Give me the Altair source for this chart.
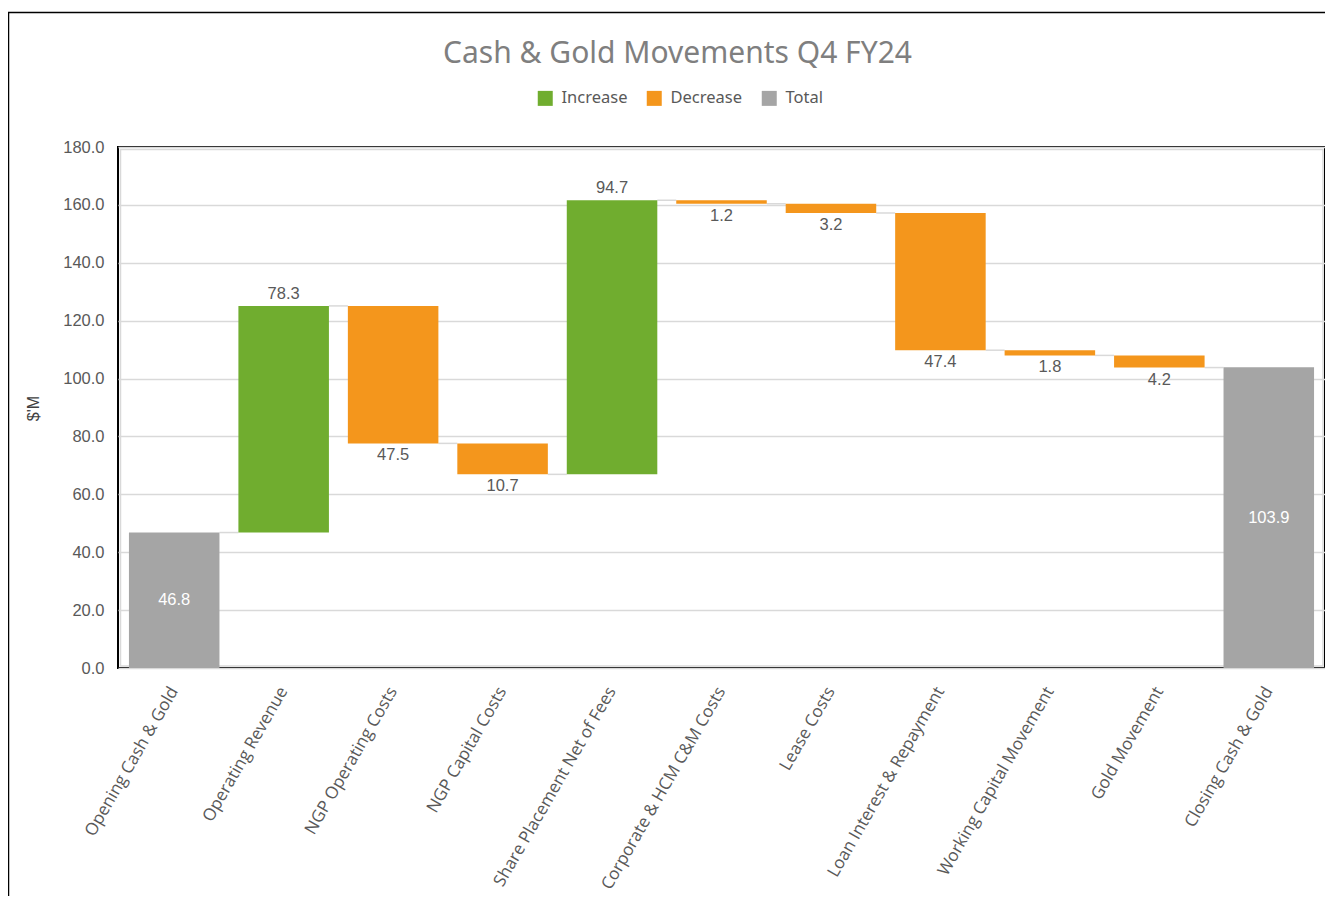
import altair as alt
import pandas as pd

categories = [
    "Opening Cash & Gold", "Operating Revenue", "NGP Operating Costs", "NGP Capital Costs",
    "Share Placement Net of Fees", "Corporate & HCM C&M Costs", "Lease Costs",
    "Loan Interest & Repayment", "Working Capital Movement", "Gold Movement", "Closing Cash & Gold",
]
values = [46.8, 78.3, -47.5, -10.7, 94.7, -1.2, -3.2, -47.4, -1.8, -4.2, 103.9]
kinds = ["Total", "Increase", "Decrease", "Decrease", "Increase", "Decrease", "Decrease",
         "Decrease", "Decrease", "Decrease", "Total"]

chart_title = "Cash & Gold Movements Q4 FY24"
legend_names = ["Increase", "Decrease", "Total"]
legend_colors = ["#70AD2F", "#F4961C", "#A5A5A5"]
y_ticks = [0, 20, 40, 60, 80, 100, 120, 140, 160, 180]

rows = []
running = 0.0
for i, (c, v, k) in enumerate(zip(categories, values, kinds)):
    if k == "Total":
        start, end = 0.0, v
    else:
        start, end = running, running + v
    running = end
    rows.append({
        "cat": c, "kind": k, "start": start, "end": end,
        "lo": min(start, end), "hi": max(start, end), "mid": (start + end) / 2,
        "label": f"{abs(v):.1f}",
        "next": categories[i + 1] if i + 1 < len(categories) else None,
    })
df = pd.DataFrame(rows)

W, H = 1207, 521
xscale = alt.Scale(paddingInner=0.173, paddingOuter=0.1)
yscale = alt.Scale(domain=[0, 180], nice=False, zero=True)

base = alt.Chart(df)

x_enc = alt.X("cat:N", sort=categories, scale=xscale, title=None,
              axis=alt.Axis(labelAngle=300, labelFont="Open Sans", labelFontSize=17,
                            labelColor="#595959", labelPadding=20, ticks=False, domain=False,
                            labelLimit=400))
y_enc = alt.Y("lo:Q", scale=yscale, title="$'M",
              axis=alt.Axis(values=y_ticks, format=".1f", labelFont="Liberation Sans",
                            labelFontSize=16.5, labelColor="#595959", labelPadding=14,
                            ticks=False, domain=False, gridColor="#D9D9D9", gridWidth=1.5,
                            titleFont="Liberation Sans", titleFontSize=16, titleColor="#404040",
                            titleFontWeight="normal", titleAngle=270, titleX=-85, titleY=261,
                            titleAlign="center", titleBaseline="middle"))

frame = alt.Chart(pd.DataFrame({"f": [0]})).mark_rect(
    fill=None, stroke="black", strokeWidth=1.5, clip=False
).encode(x=alt.value(-109.5), x2=alt.value(1300), y=alt.value(-134.5), y2=alt.value(900))

inner = alt.Chart(pd.DataFrame({"f": [0]})).mark_rect(
    fill=None, stroke="#D9D9D9", strokeWidth=1.5
).encode(x=alt.value(2.5), x2=alt.value(W - 2), y=alt.value(2.5), y2=alt.value(H - 2))

title_mark = alt.Chart(pd.DataFrame({"t": [chart_title]})).mark_text(
    font="Noto Sans", fontSize=30, color="#7F7F7F", baseline="middle", align="center"
).encode(x=alt.value(559.5), y=alt.value(-93), text="t:N")

bars = base.mark_bar().encode(
    x=x_enc,
    y=y_enc,
    y2="hi:Q",
    color=alt.Color("kind:N", scale=alt.Scale(domain=legend_names, range=legend_colors),
                    legend=alt.Legend(title=None, orient="none", legendX=419, legendY=-57,
                                      direction="horizontal", symbolType="square",
                                      symbolSize=225, symbolStrokeWidth=0,
                                      labelFont="Noto Sans", labelFontSize=16.5,
                                      labelColor="#595959", labelOffset=8,
                                      columnPadding=18)),
)

conn = base.transform_filter("datum.next != null").mark_rule(
    color="#D9D9D9", strokeWidth=1.5
).encode(
    x=alt.X("cat:N", sort=categories, bandPosition=1),
    x2=alt.X2("next:N", bandPosition=0),
    y=alt.Y("end:Q"),
)

inc_txt = base.transform_filter("datum.kind == 'Increase'").mark_text(
    baseline="bottom", dy=-4, font="Liberation Sans", fontSize=16.5, color="#595959"
).encode(x=alt.X("cat:N", sort=categories), y=alt.Y("hi:Q"), text="label:N")

dec_txt = base.transform_filter("datum.kind == 'Decrease'").mark_text(
    baseline="top", dy=4, font="Liberation Sans", fontSize=16.5, color="#595959"
).encode(x=alt.X("cat:N", sort=categories), y=alt.Y("lo:Q"), text="label:N")

tot_txt = base.transform_filter("datum.kind == 'Total'").mark_text(
    baseline="middle", font="Liberation Sans", fontSize=16.5, color="white"
).encode(x=alt.X("cat:N", sort=categories), y=alt.Y("mid:Q"), text="label:N")

chart = alt.layer(frame, inner, title_mark, conn, bars, inc_txt, dec_txt, tot_txt).properties(
    width=W, height=H,
    autosize=alt.AutoSizeParams(type="none"),
    padding={"left": 110, "top": 139, "right": 0, "bottom": 228},
).configure(background="white").configure_view(stroke="black", strokeWidth=2)

chart.save("out.html", embed_options={"renderer": "svg", "actions": False})
